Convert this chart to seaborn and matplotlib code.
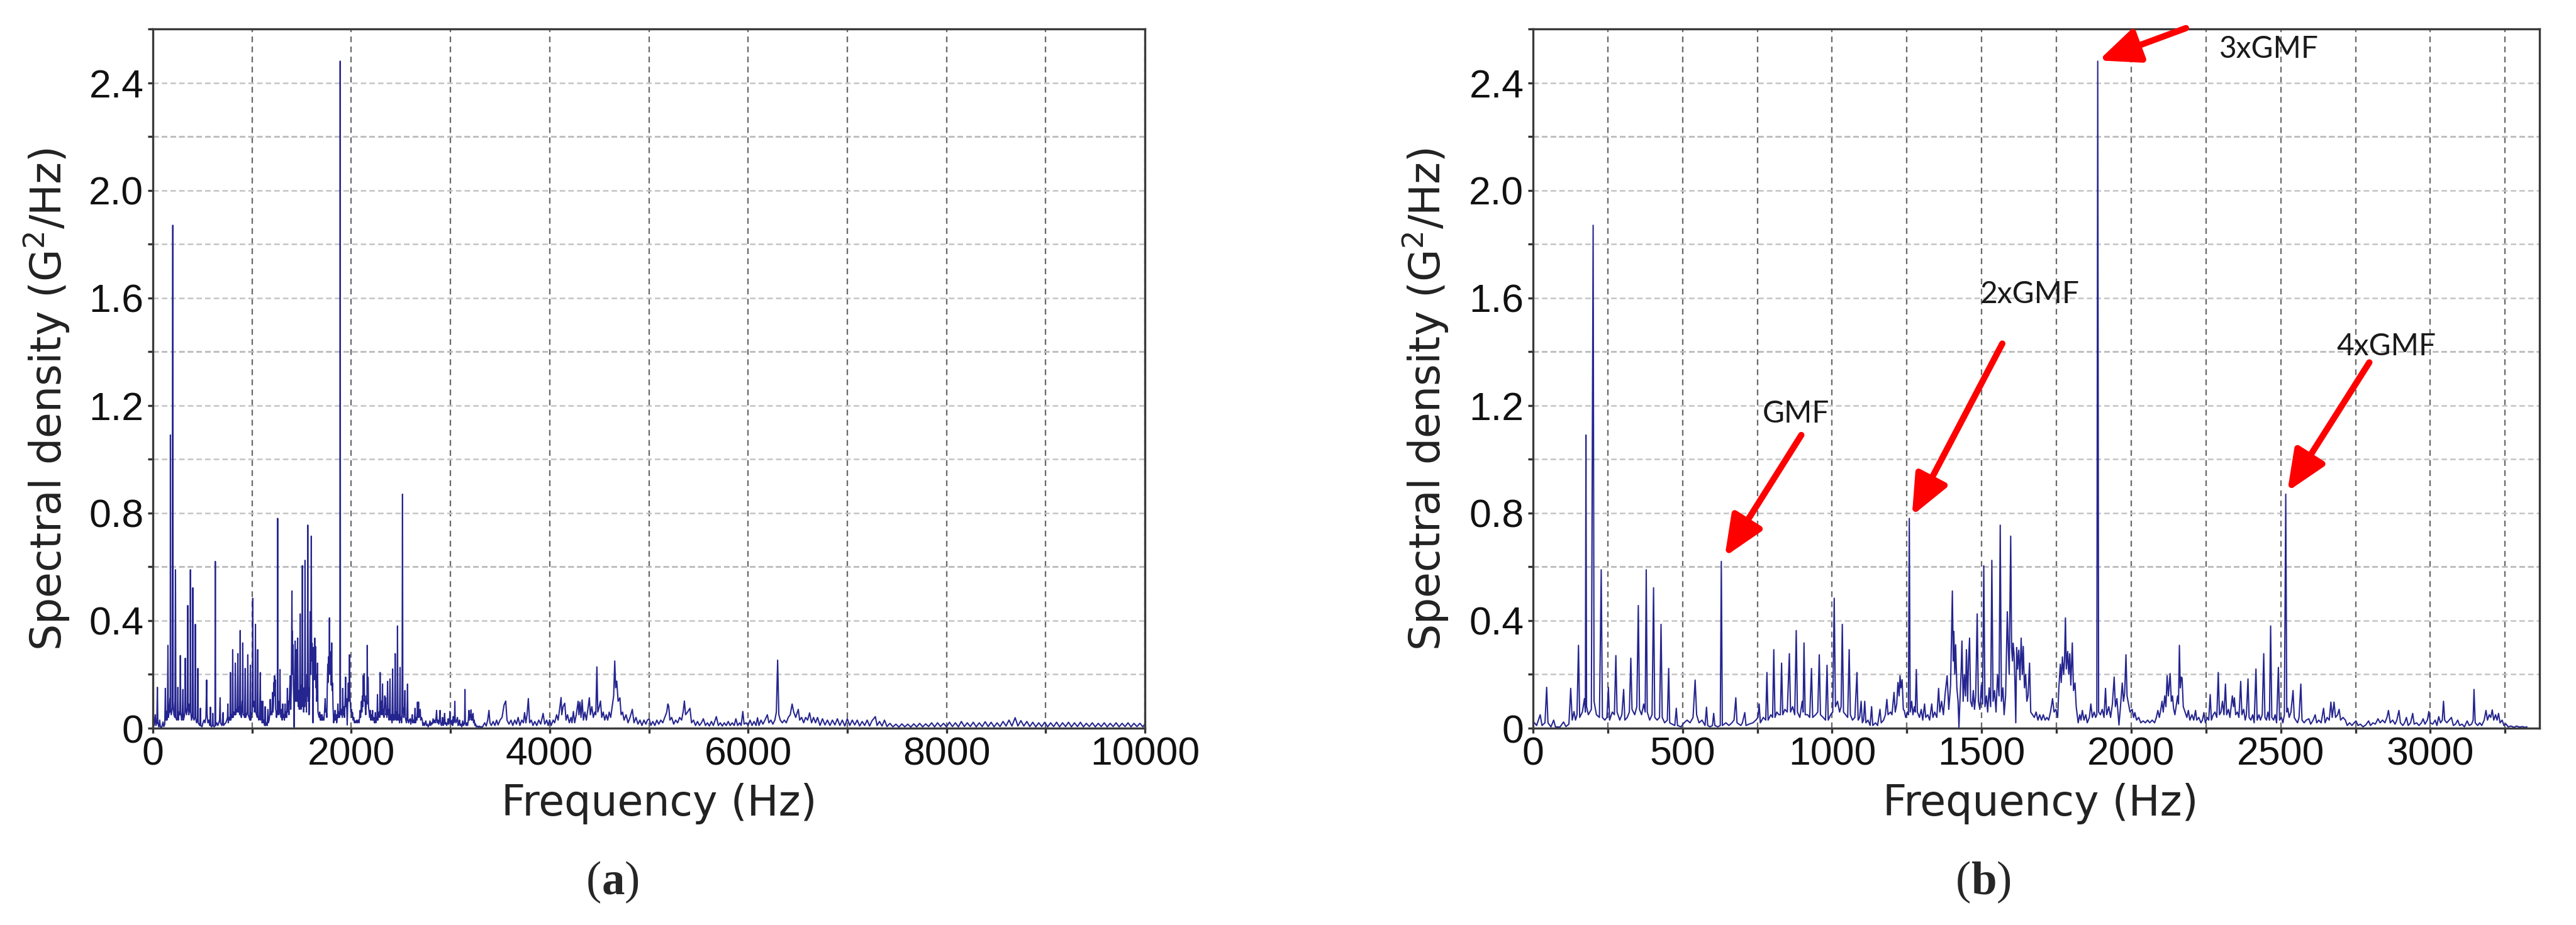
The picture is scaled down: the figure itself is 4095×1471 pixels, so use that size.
import matplotlib
matplotlib.use("Agg")
import matplotlib.pyplot as plt
import numpy as np
import pandas as pd
import seaborn as sns
from matplotlib.ticker import MultipleLocator, FixedLocator, FixedFormatter

# ---------------- data (frequency Hz, spectral density G^2/Hz) ----------------
BAND_0_700 = [
    (5, 0.02), (12, 0.01), (18, 0.03), (24, 0.05), (30, 0.01), (40, 0.02), (45.6, 0.152), (50, 0.02),
    (60, 0.005), (69, 0.03), (75, 0.005), (90, 0.004), (102, 0.023), (110, 0.006), (120, 0.015),
    (126, 0.148), (131, 0.03), (137, 0.062), (142, 0.03), (147, 0.05), (152, 0.308), (156, 0.04),
    (165, 0.06), (172, 0.11), (175, 0.06), (177, 1.09), (179, 0.08), (185, 0.05), (195, 0.07),
    (201, 1.87), (204, 0.10), (212, 0.05), (222, 0.04), (228, 0.589), (232, 0.04), (240, 0.03),
    (247, 0.04), (252, 0.152), (256, 0.03), (265, 0.06), (272, 0.05), (277, 0.27), (281, 0.06),
    (290, 0.03), (297, 0.05), (303, 0.144), (307, 0.03), (315, 0.04), (322, 0.06), (327, 0.26),
    (331, 0.07), (340, 0.05), (347, 0.08), (352, 0.456), (356, 0.07), (363, 0.05), (370, 0.09),
    (375, 0.06), (378.5, 0.589), (382, 0.06), (390, 0.03), (398, 0.05), (403, 0.522), (407, 0.04),
    (415, 0.03), (423, 0.04), (428, 0.386), (432, 0.04), (440, 0.02), (449, 0.03), (453.6, 0.222),
    (457, 0.02), (465, 0.015), (474, 0.01), (479, 0.074), (483, 0.01), (495, 0.005), (505, 0.02),
    (515, 0.03), (525, 0.02), (535, 0.04), (542, 0.179), (547, 0.05), (555, 0.02), (565, 0.03),
    (575, 0.01), (580, 0.078), (584, 0.01), (592, 0.005), (600, 0.01), (604, 0.055), (608, 0.01),
    (618, 0.005), (626, 0.01), (629.5, 0.62), (633, 0.01), (645, 0.02), (655, 0.01), (665, 0.02),
    (672, 0.03), (678, 0.113), (682, 0.02), (695, 0.01),
]
BAND_700_1200 = [
    (700, 0.02), (708, 0.058), (712, 0.01), (722, 0.015), (735, 0.02), (745, 0.03), (752, 0.04),
    (756, 0.09), (760, 0.02), (770, 0.04), (778, 0.03), (782, 0.207), (786, 0.03), (795, 0.05),
    (801, 0.04), (805, 0.292), (809, 0.04), (815, 0.06), (822, 0.05), (827, 0.05), (831, 0.242),
    (835, 0.05), (842, 0.07), (850, 0.06), (857, 0.277), (861, 0.06), (868, 0.08), (875, 0.05),
    (880, 0.363), (884, 0.06), (892, 0.04), (900, 0.1), (903, 0.06), (906, 0.317), (910, 0.05),
    (918, 0.05), (925, 0.04), (931, 0.222), (935, 0.04), (945, 0.05), (952, 0.06), (957, 0.273),
    (961, 0.05), (970, 0.04), (978, 0.03), (983, 0.234), (987, 0.03), (995, 0.05), (1002, 0.06),
    (1007, 0.483), (1011, 0.08), (1018, 0.1), (1025, 0.06), (1030, 0.08), (1034, 0.386), (1038, 0.06),
    (1045, 0.05), (1052, 0.04), (1057, 0.292), (1061, 0.05), (1068, 0.03), (1076, 0.04), (1083, 0.207),
    (1087, 0.03), (1092, 0.04), (1097, 0.10), (1101, 0.02), (1105, 0.03), (1109, 0.10), (1113, 0.02),
    (1120, 0.03), (1127, 0.01), (1132, 0.08), (1136, 0.01), (1145, 0.02), (1152, 0.01), (1160, 0.07),
    (1164, 0.02), (1172, 0.03), (1178, 0.05), (1183, 0.107), (1187, 0.05), (1195, 0.06),
]
BAND_1200_1700 = [
    (1200, 0.05), (1207, 0.133), (1211, 0.06), (1216, 0.09), (1220, 0.17), (1224, 0.12), (1227, 0.195),
    (1230, 0.15), (1234, 0.18), (1238, 0.07), (1241, 0.066), (1246, 0.04), (1252, 0.06), (1255, 0.05),
    (1258, 0.78), (1261, 0.06), (1266, 0.1), (1270, 0.05), (1275, 0.08), (1278, 0.06), (1281.5, 0.218),
    (1285, 0.06), (1292, 0.04), (1298, 0.07), (1303, 0.03), (1309, 0.09), (1313, 0.04), (1320, 0.05),
    (1326, 0.03), (1333, 0.09), (1337, 0.04), (1343, 0.06), (1350, 0.04), (1356, 0.148), (1360, 0.06),
    (1366, 0.1), (1372, 0.05), (1378, 0.13), (1384.5, 0.195), (1390, 0.07), (1396, 0.16), (1402, 0.51),
    (1405, 0.25), (1407, 0.36), (1410, 0.2), (1413, 0.31), (1417, 0.15), (1421, 0.1), (1424, 0.004),
    (1428, 0.12), (1431, 0.2), (1434, 0.324), (1438, 0.1), (1442, 0.2), (1446, 0.12), (1449, 0.292),
    (1453, 0.1), (1456, 0.25), (1459.5, 0.335), (1463, 0.1), (1468, 0.08), (1472, 0.14), (1476, 0.07),
    (1480, 0.12), (1485, 0.425), (1489, 0.1), (1494, 0.07), (1499, 0.16), (1503, 0.09), (1507, 0.604),
    (1511, 0.08), (1516, 0.12), (1520, 0.06), (1525, 0.15), (1530, 0.08), (1534, 0.624), (1538, 0.1),
    (1543, 0.14), (1548, 0.06), (1553, 0.2), (1558, 0.12), (1562, 0.755), (1566, 0.1), (1571, 0.15),
    (1575, 0.05), (1580, 0.12), (1585.7, 0.433), (1589, 0.3), (1592, 0.2), (1597, 0.714), (1600, 0.3),
    (1603, 0.25), (1605, 0.316), (1608, 0.28), (1611, 0.18), (1614, 0.02), (1617, 0.3), (1620, 0.22),
    (1624, 0.29), (1628, 0.18), (1632, 0.335), (1636, 0.2), (1639, 0.304), (1643, 0.15), (1647, 0.2),
    (1651, 0.1), (1655, 0.12), (1660, 0.242), (1664, 0.06), (1670, 0.05), (1676, 0.04), (1682, 0.06),
    (1688, 0.03), (1694, 0.05),
]
BAND_1700_2300 = [
    (1700, 0.03), (1706, 0.05), (1712, 0.03), (1718, 0.04), (1724, 0.03), (1730, 0.06), (1737, 0.11),
    (1742, 0.06), (1748, 0.07), (1754, 0.04), (1758, 0.15), (1763, 0.238), (1766, 0.17), (1770, 0.265),
    (1774, 0.2), (1777, 0.25), (1780, 0.41), (1783, 0.22), (1787.5, 0.285), (1791, 0.2), (1794.5, 0.277),
    (1798, 0.16), (1803, 0.317), (1807, 0.14), (1812, 0.168), (1816, 0.08), (1822.6, 0.02), (1828, 0.05),
    (1832, 0.03), (1836.6, 0.066), (1842, 0.03), (1848, 0.05), (1853, 0.02), (1860, 0.04), (1865, 0.09),
    (1870, 0.04), (1876, 0.06), (1881, 0.04), (1885, 0.05), (1888, 2.48), (1891, 0.06), (1897, 0.05),
    (1903, 0.07), (1909, 0.04), (1914, 0.148), (1918, 0.05), (1925, 0.08), (1931, 0.04), (1937, 0.09),
    (1943, 0.19), (1947, 0.08), (1952, 0.11), (1959, 0.012), (1964, 0.08), (1970, 0.168), (1974, 0.1),
    (1978, 0.13), (1982.4, 0.273), (1986, 0.12), (1991, 0.09), (1996, 0.06), (2003, 0.07), (2008, 0.04),
    (2012, 0.058), (2018, 0.03), (2025, 0.04), (2032, 0.02), (2040, 0.027), (2047, 0.02), (2055, 0.03),
    (2062, 0.02), (2070, 0.03), (2078, 0.02), (2084, 0.04), (2089, 0.066), (2094, 0.04), (2099, 0.07),
    (2103, 0.10), (2107, 0.06), (2112, 0.12), (2116, 0.08), (2120, 0.195), (2124, 0.12), (2127, 0.16),
    (2130, 0.203), (2134, 0.1), (2138, 0.12), (2141.5, 0.074), (2146, 0.05), (2150, 0.08), (2155, 0.12),
    (2158, 0.09), (2161, 0.308), (2164, 0.15), (2167, 0.19), (2170, 0.187), (2174, 0.08), (2180, 0.06),
    (2186, 0.04), (2191, 0.066), (2196, 0.03), (2203, 0.05), (2209, 0.03), (2215, 0.066), (2219, 0.03),
    (2226, 0.04), (2233, 0.02), (2238, 0.03), (2243, 0.058), (2248, 0.02), (2254, 0.04), (2259, 0.03),
    (2264, 0.125), (2268, 0.03), (2274, 0.05), (2280, 0.06), (2286, 0.04), (2291, 0.207), (2295, 0.05),
]
BAND_2300_3325 = [
    (2300, 0.06), (2305, 0.1), (2310, 0.05), (2315, 0.164), (2319, 0.05), (2325, 0.07), (2330, 0.04),
    (2335, 0.09), (2338, 0.12), (2342, 0.08), (2345, 0.113), (2349, 0.05), (2355, 0.06), (2360, 0.04),
    (2366, 0.174), (2370, 0.05), (2376, 0.07), (2381, 0.03), (2385, 0.05), (2390.4, 0.183), (2394, 0.04),
    (2400, 0.03), (2406, 0.05), (2411, 0.02), (2417, 0.22), (2421, 0.03), (2427, 0.05), (2432, 0.03),
    (2438, 0.05), (2443, 0.277), (2447, 0.04), (2452, 0.03), (2457, 0.06), (2462, 0.03), (2466, 0.38),
    (2470, 0.04), (2476, 0.03), (2481, 0.05), (2486, 0.02), (2492, 0.226), (2496, 0.03), (2502, 0.04),
    (2507, 0.02), (2512, 0.05), (2516.6, 0.87), (2520, 0.06), (2523.6, 0.074), (2528, 0.04), (2534, 0.06),
    (2541, 0.14), (2545, 0.04), (2550, 0.03), (2556, 0.02), (2561, 0.04), (2567, 0.164), (2571, 0.03),
    (2578, 0.02), (2585, 0.03), (2594, 0.035), (2600, 0.015), (2608, 0.03), (2615, 0.05), (2620, 0.02),
    (2627, 0.03), (2635, 0.02), (2643, 0.074), (2648, 0.02), (2655, 0.04), (2662, 0.03), (2667.5, 0.097),
    (2672, 0.04), (2678, 0.097), (2683, 0.04), (2690, 0.05), (2695, 0.07), (2700, 0.03), (2708, 0.04),
    (2716, 0.03), (2722, 0.01), (2730, 0.02), (2738, 0.01), (2745, 0.02), (2751.5, 0.027), (2758, 0.01),
    (2766, 0.015), (2775, 0.005), (2784, 0.012), (2793.5, 0.027), (2800, 0.01), (2808, 0.02), (2816, 0.015),
    (2825, 0.035), (2832, 0.02), (2840, 0.03), (2848, 0.02), (2855, 0.04), (2860, 0.066), (2866, 0.02),
    (2874, 0.03), (2882, 0.015), (2888, 0.03), (2895, 0.066), (2900, 0.02), (2908, 0.01), (2914, 0.02),
    (2920, 0.04), (2926, 0.01), (2934, 0.02), (2941, 0.055), (2946, 0.015), (2954, 0.02), (2962, 0.01),
    (2970, 0.02), (2976, 0.035), (2982, 0.015), (2990, 0.03), (2995, 0.062), (3000, 0.02), (3008, 0.015),
    (3016, 0.03), (3022, 0.01), (3028, 0.043), (3034, 0.02), (3040, 0.03), (3044, 0.10), (3048, 0.03),
    (3055, 0.02), (3063, 0.03), (3070.5, 0.04), (3077, 0.01), (3084, 0.015), (3091.5, 0.03), (3098, 0.01),
    (3106, 0.015), (3114, 0.005), (3123, 0.027), (3130, 0.01), (3138, 0.015), (3143, 0.03), (3146, 0.144),
    (3150, 0.02), (3158, 0.01), (3165, 0.02), (3172, 0.01), (3180, 0.03), (3186, 0.066), (3191, 0.03),
    (3197, 0.05), (3202, 0.04), (3207, 0.068), (3212, 0.03), (3218, 0.05), (3223, 0.03), (3228, 0.055),
    (3233, 0.02), (3240, 0.03), (3246, 0.01), (3253, 0.016), (3260, 0.005), (3270, 0.008), (3280, 0.003),
    (3288, 0.008), (3298, 0.004), (3308, 0.006), (3316, 0.003), (3323, 0.005),
]
# part of the wide-band spectrum (panel a) above 3325 Hz
BAND_3325_6700 = [
    (3330, 0.01), (3345, 0.02), (3360, 0.008), (3375, 0.03), (3388, 0.066), (3398, 0.02), (3412, 0.01),
    (3430, 0.025), (3448, 0.01), (3465, 0.03), (3480, 0.012), (3500, 0.03), (3520, 0.04), (3540, 0.086),
    (3557, 0.101), (3570, 0.03), (3590, 0.015), (3610, 0.03), (3628, 0.01), (3648, 0.03), (3665, 0.015),
    (3682, 0.04), (3700, 0.01), (3718, 0.03), (3735, 0.02), (3747, 0.058), (3760, 0.02), (3772, 0.05),
    (3785, 0.11), (3798, 0.02), (3815, 0.03), (3832, 0.01), (3850, 0.025), (3870, 0.01), (3890, 0.03),
    (3910, 0.015), (3934, 0.055), (3950, 0.015), (3970, 0.03), (3985, 0.01), (4000, 0.031), (4015, 0.01),
    (4035, 0.03), (4050, 0.02), (4070, 0.05), (4085, 0.03), (4100, 0.07), (4115, 0.114), (4122, 0.05),
    (4135, 0.08), (4152, 0.093), (4165, 0.03), (4180, 0.05), (4198, 0.02), (4215, 0.04), (4225, 0.02),
    (4239, 0.062), (4252, 0.02), (4268, 0.05), (4287, 0.1), (4295, 0.05), (4305, 0.097), (4316, 0.04),
    (4327, 0.105), (4340, 0.03), (4355, 0.06), (4370, 0.03), (4385, 0.07), (4400, 0.113), (4410, 0.05),
    (4425, 0.08), (4440, 0.04), (4455, 0.06), (4465, 0.05), (4476, 0.228), (4485, 0.06), (4500, 0.08),
    (4512, 0.101), (4525, 0.04), (4540, 0.06), (4555, 0.03), (4570, 0.05), (4585, 0.03), (4600, 0.06),
    (4615, 0.04), (4630, 0.08), (4645, 0.12), (4656, 0.25), (4665, 0.15), (4676, 0.175), (4690, 0.1),
    (4708, 0.113), (4720, 0.05), (4735, 0.06), (4750, 0.03), (4770, 0.05), (4790, 0.02), (4810, 0.04),
    (4833, 0.07), (4850, 0.02), (4870, 0.04), (4890, 0.015), (4910, 0.03), (4930, 0.01), (4950, 0.03),
    (4970, 0.015), (4985, 0.03), (5003, 0.035), (5020, 0.01), (5040, 0.025), (5060, 0.01), (5080, 0.03),
    (5100, 0.015), (5120, 0.03), (5140, 0.02), (5160, 0.04), (5180, 0.06), (5191, 0.09), (5200, 0.082),
    (5212, 0.03), (5230, 0.04), (5250, 0.015), (5270, 0.03), (5290, 0.02), (5310, 0.04), (5330, 0.03),
    (5345, 0.06), (5358, 0.101), (5370, 0.05), (5390, 0.06), (5414, 0.074), (5430, 0.02), (5450, 0.03),
    (5470, 0.01), (5490, 0.025), (5510, 0.01), (5530, 0.02), (5549, 0.035), (5570, 0.01), (5590, 0.02),
    (5610, 0.008), (5630, 0.025), (5650, 0.01), (5680, 0.043), (5700, 0.01), (5720, 0.02), (5740, 0.008),
    (5760, 0.02), (5780, 0.01), (5800, 0.025), (5820, 0.01), (5840, 0.02), (5860, 0.01), (5877, 0.035),
    (5895, 0.01), (5915, 0.02), (5930, 0.01), (5947, 0.062), (5960, 0.015), (5980, 0.02), (6000, 0.01),
    (6020, 0.03), (6040, 0.01), (6060, 0.025), (6080, 0.01), (6095, 0.039), (6110, 0.01), (6130, 0.03),
    (6150, 0.015), (6170, 0.03), (6194, 0.05), (6210, 0.02), (6230, 0.03), (6250, 0.015), (6270, 0.03),
    (6285, 0.06), (6298, 0.253), (6310, 0.05), (6325, 0.03), (6345, 0.02), (6365, 0.03), (6385, 0.02),
    (6405, 0.04), (6425, 0.05), (6444, 0.09), (6460, 0.06), (6480, 0.04), (6506, 0.07), (6520, 0.03),
    (6540, 0.04), (6560, 0.02), (6580, 0.04), (6600, 0.03), (6620, 0.057), (6640, 0.02), (6660, 0.04),
    (6680, 0.02), (6700, 0.04),
]
BAND_6700_10000 = [
    (6725, 0.01), (6750, 0.035), (6775, 0.012), (6800, 0.03), (6825, 0.01), (6850, 0.03), (6875, 0.012),
    (6900, 0.035), (6925, 0.01), (6950, 0.03), (6975, 0.008), (7000, 0.035), (7025, 0.01), (7050, 0.03),
    (7075, 0.012), (7100, 0.03), (7125, 0.008), (7150, 0.025), (7175, 0.01), (7200, 0.03), (7225, 0.008),
    (7250, 0.028), (7283, 0.043), (7300, 0.01), (7325, 0.025), (7350, 0.008), (7375, 0.03), (7400, 0.006),
    (7430, 0.018), (7460, 0.005), (7490, 0.015), (7520, 0.004), (7550, 0.016), (7580, 0.005), (7610, 0.015),
    (7640, 0.004), (7670, 0.016), (7700, 0.005), (7730, 0.018), (7760, 0.005), (7790, 0.016), (7820, 0.006),
    (7850, 0.02), (7880, 0.005), (7910, 0.02), (7940, 0.006), (7970, 0.018), (8000, 0.005), (8030, 0.022),
    (8060, 0.006), (8090, 0.02), (8120, 0.005), (8150, 0.025), (8180, 0.006), (8210, 0.02), (8240, 0.006),
    (8270, 0.022), (8300, 0.005), (8330, 0.02), (8360, 0.006), (8390, 0.024), (8420, 0.006), (8450, 0.022),
    (8480, 0.005), (8510, 0.02), (8540, 0.006), (8570, 0.025), (8600, 0.008), (8630, 0.03), (8660, 0.008),
    (8692, 0.039), (8720, 0.008), (8750, 0.028), (8780, 0.008), (8810, 0.025), (8840, 0.006), (8870, 0.022),
    (8900, 0.005), (8930, 0.02), (8960, 0.006), (8990, 0.022), (9020, 0.005), (9050, 0.02), (9080, 0.006),
    (9110, 0.022), (9140, 0.005), (9170, 0.02), (9200, 0.006), (9230, 0.022), (9260, 0.005), (9290, 0.02),
    (9320, 0.006), (9350, 0.022), (9380, 0.005), (9410, 0.018), (9440, 0.006), (9470, 0.02), (9500, 0.005),
    (9530, 0.018), (9560, 0.006), (9590, 0.02), (9620, 0.005), (9650, 0.018), (9680, 0.006), (9710, 0.02),
    (9740, 0.005), (9770, 0.018), (9800, 0.006), (9830, 0.02), (9860, 0.005), (9890, 0.018), (9920, 0.006),
    (9950, 0.018), (9980, 0.005), (10000, 0.015),
]

X_TICKS_A = [0, 2000, 4000, 6000, 8000, 10000]
X_TICKS_B = [0, 500, 1000, 1500, 2000, 2500, 3000]
Y_TICKS = [0, 0.4, 0.8, 1.2, 1.6, 2.0, 2.4]
Y_TICK_LABELS = ["0", "0.4", "0.8", "1.2", "1.6", "2.0", "2.4"]

# harmonic annotations on panel (b): label, text position, arrow tail, arrow tip
ANN_LABELS = ["GMF", "2xGMF", "3xGMF", "4xGMF"]
ANN_TEXT_XY = [(879, 1.168), (1661, 1.614), (2461, 2.525), (2853, 1.42)]
ANN_TAIL_XY = [(897, 1.09), (1569, 1.43), (2183, 2.603), (2796, 1.36)]
ANN_TIP_XY = [(641, 0.638), (1267, 0.79), (1891, 2.483), (2522, 0.88)]

# ---------------- frames ----------------
def to_frame(*bands):
    pts = [p for b in bands for p in b]
    return pd.DataFrame({"freq": [p[0] for p in pts], "psd": [p[1] for p in pts]})

df_b = to_frame(BAND_0_700, BAND_700_1200, BAND_1200_1700, BAND_1700_2300, BAND_2300_3325)
df_a = to_frame(BAND_0_700, BAND_700_1200, BAND_1200_1700, BAND_1700_2300, BAND_2300_3325,
                BAND_3325_6700, BAND_6700_10000)

# ---------------- style ----------------
sns.set_style("white")
plt.rcParams["font.family"] = ["DejaVu Sans"]
plt.rcParams["mathtext.default"] = "regular"

W, H = 4095, 1471
fig = plt.figure(figsize=(W / 300, H / 300), dpi=300)
ax_a = fig.add_axes([243 / W, 1 - 1158 / H, 1577 / W, 1112 / H])
ax_b = fig.add_axes([2437 / W, 1 - 1158 / H, 1600 / W, 1112 / H])

LINE_COLOR = "#25258f"
TICK_FONT = ["Liberation Sans", "DejaVu Sans"]

def style_axes(ax, xmax, xmajor, xminor_step):
    ax.set_xlim(0, xmax)
    ax.set_ylim(0, 2.6)
    ax.xaxis.set_major_locator(FixedLocator(xmajor))
    ax.xaxis.set_major_formatter(FixedFormatter([str(t) for t in xmajor]))
    ax.xaxis.set_minor_locator(MultipleLocator(xminor_step))
    ax.yaxis.set_major_locator(FixedLocator(Y_TICKS))
    ax.yaxis.set_major_formatter(FixedFormatter(Y_TICK_LABELS))
    ax.yaxis.set_minor_locator(MultipleLocator(0.2))
    ax.tick_params(which="both", direction="out", length=2.0, width=0.8, color="#333333",
                   left=True, bottom=True, top=False, right=False)
    ax.tick_params(axis="x", which="major", pad=1.0)
    ax.tick_params(axis="y", which="major", pad=1.5)
    for lab in ax.get_xticklabels() + ax.get_yticklabels():
        lab.set_fontfamily(TICK_FONT)
        lab.set_fontsize(15)
        lab.set_color("#111111")
    ax.grid(False)
    ax.xaxis.grid(True, which="both", linestyle=(0, (4, 3)), linewidth=0.55, color="#6a6a6a")
    ax.yaxis.grid(True, which="both", linestyle=(0, (3.5, 2)), linewidth=0.6, color="#c4c4c4")
    for gl in ax.yaxis.get_minorticklines():
        pass
    ax.set_axisbelow(True)
    for s in ax.spines.values():
        s.set_visible(True)
        s.set_color("#3a3a3a")
        s.set_linewidth(0.8)
    ax.set_xlabel("Frequency (Hz)", fontsize=16, color="#222222")
    ax.set_ylabel("Spectral density (G$^{2}$/Hz)", fontsize=16, color="#222222")
    ax.yaxis.set_label_coords(-0.082, 0.47)

for ax, df, xmax, xmajor, xminor in [(ax_a, df_a, 10000, X_TICKS_A, 1000),
                                      (ax_b, df_b, 3365, X_TICKS_B, 250)]:
    sns.lineplot(data=df, x="freq", y="psd", ax=ax, color=LINE_COLOR, linewidth=0.5,
                 estimator=None, sort=False)
    style_axes(ax, xmax, xmajor, xminor)

# darker horizontal grid lines at 0.6, 1.4, 2.2 (as in the source rendering)
for ax in (ax_a, ax_b):
    for v in (0.6, 1.4, 2.2):
        ax.axhline(v, linestyle=(0, (3.5, 2)), linewidth=0.6, color="#8a8a8a", zorder=0.5)

ax_a.xaxis.set_label_coords(0.51, -0.108)
ax_b.xaxis.set_label_coords(0.504, -0.108)
for ax in (ax_a, ax_b):
    ax.xaxis.label.set_va("center")

# annotations
for lab, txy, tail, tip in zip(ANN_LABELS, ANN_TEXT_XY, ANN_TAIL_XY, ANN_TIP_XY):
    ax_b.text(txy[0], txy[1], lab, ha="center", va="center", fontsize=11.5,
              family=["Lato", "DejaVu Sans"], color="#1a1a1a")
    ax_b.annotate("", xy=tip, xytext=tail, annotation_clip=False,
                  arrowprops=dict(arrowstyle="-|>,head_length=0.65,head_width=0.28",
                                  mutation_scale=20, color="#ff0000", lw=2.4,
                                  shrinkA=0, shrinkB=0))

# panel captions "(a)" and "(b)" with bold letter
for x0, letter in [(932 / W, "a"), (3109 / W, "b")]:
    t1 = fig.text(x0, 1 - 1403 / H, "(", fontsize=17.5, family=["Liberation Serif", "DejaVu Serif"],
                  ha="left", va="center")
    t2 = ax_a.annotate(letter, xy=(1, 0.5), xycoords=t1, ha="left", va="center", fontsize=17.5,
                       fontweight="bold", family=["Liberation Serif", "DejaVu Serif"],
                       annotation_clip=False)
    ax_a.annotate(")", xy=(1, 0.5), xycoords=t2, ha="left", va="center", fontsize=17.5,
                  family=["Liberation Serif", "DejaVu Serif"], annotation_clip=False)

fig.savefig("out.png", dpi=300, facecolor="white")
